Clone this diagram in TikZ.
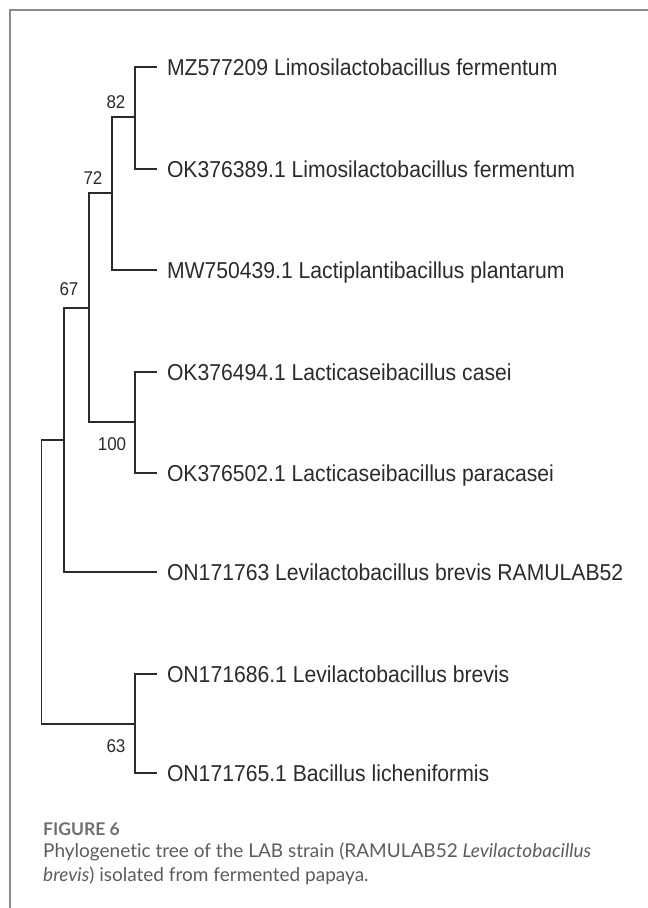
\documentclass[tikz,border=0pt]{standalone}
\usepackage{fontspec}
\setmainfont{Liberation Sans}
\newfontfamily\treefont{Liberation Sans}[FakeStretch=0.92]
\newfontfamily\capfont{Lato}[Ligatures=NoCommon]
\usetikzlibrary{positioning, calc}

\definecolor{framegray}{HTML}{8A8A8A}
\definecolor{treeink}{HTML}{2B2B2B}
\definecolor{capgray}{HTML}{5C5C5C}
\definecolor{figgray}{HTML}{6E6E6E}

\begin{document}
\begin{tikzpicture}[
        x=1pt, y=-1pt,
        branch/.style={draw=treeink, line width=1.4pt},
        leaf/.style={anchor=west, inner xsep=0pt, outer sep=0pt, font=\treefont\fontsize{23}{27}\selectfont, text=treeink, text height=16.5pt, text depth=0pt, xshift=10pt},
        boot/.style={anchor=base, inner sep=0pt, font=\treefont\fontsize{18.5}{22}\selectfont, text=treeink},
        frame/.style={draw=framegray, line width=2pt}
    ]
        \useasboundingbox (0,0) rectangle (648,908);

        % Outer frame (left and top edges only)
        \draw[frame] (9.5,908) |- (648,10);

        % Internal nodes of the tree
        \coordinate (n82) at (135,117);
        \coordinate (n72) at (112,193);
        \coordinate (n100) at (135,422);
        \coordinate (n67) at (89,308);
        \coordinate (nA) at (64,440);
        \coordinate (n63) at (135,724);
        \coordinate (root) at (41.7,582);

        % Leaf labels
        \node[leaf] (mz577) at (157,67) {MZ577209 Limosilactobacillus fermentum};
        \node[leaf] (ok389) at (157,169) {OK376389.1 Limosilactobacillus fermentum};
        \node[leaf] (mw750) at (157,270) {MW750439.1 Lactiplantibacillus plantarum};
        \node[leaf] (ok494) at (157,372) {OK376494.1 Lacticaseibacillus casei};
        \node[leaf] (ok502) at (157,473) {OK376502.1 Lacticaseibacillus paracasei};
        \node[leaf] (on763) at (157,572) {ON171763 Levilactobacillus brevis RAMULAB52};
        \node[leaf] (on686) at (157,674) {ON171686.1 Levilactobacillus brevis};
        \node[leaf] (on765) at (157,773) {ON171765.1 Bacillus licheniformis};

        % Branches
        \draw[branch] (n82) |- ([xshift=-10pt]mz577.west);
        \draw[branch] (n82) |- ([xshift=-10pt]ok389.west);
        \draw[branch] (n72) |- (n82);
        \draw[branch] (n72) |- ([xshift=-10pt]mw750.west);
        \draw[branch] (n100) |- ([xshift=-10pt]ok494.west);
        \draw[branch] (n100) |- ([xshift=-10pt]ok502.west);
        \draw[branch] (n67) |- (n72);
        \draw[branch] (n67) |- (n100);
        \draw[branch] (nA) |- (n67);
        \draw[branch] (nA) |- ([xshift=-10pt]on763.west);
        \draw[branch] (n63) |- ([xshift=-10pt]on686.west);
        \draw[branch] (n63) |- ([xshift=-10pt]on765.west);
        \draw[branch] (root) |- (nA);
        \draw[branch] (root) |- (n63);

        % Bootstrap values
        \node[boot] (b82) at (116,108) {82};
        \node[boot] (b72) at (93,184) {72};
        \node[boot] (b67) at (69,295) {67};
        \node[boot] (b100) at (112,450) {100};
        \node[boot] (b63) at (116,752) {63};

        % Caption
        \node[anchor=base west, inner sep=0pt, font=\capfont\bfseries\fontsize{17.5}{19}\selectfont, text=figgray] (fig) at (43,835) {FIGURE 6};
        \node[anchor=north west, inner sep=0pt, align=left, font=\capfont\fontsize{19}{24}\selectfont, text=capgray] (cap) at (43,843)
            {Phylogenetic tree of the LAB strain (RAMULAB52 \textit{Levilactobacillus}\\\textit{brevis}) isolated from fermented papaya.};
    \end{tikzpicture}
\end{document}
